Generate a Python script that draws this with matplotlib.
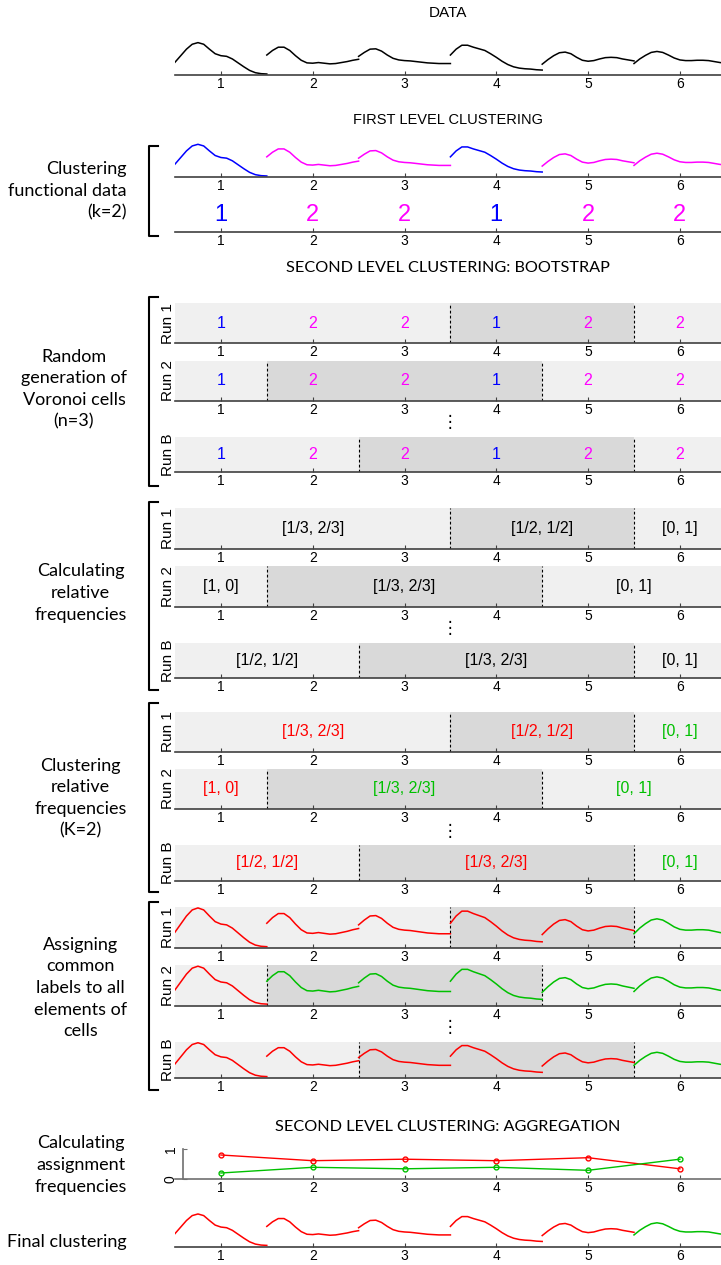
import numpy as np
import matplotlib.pyplot as plt
from matplotlib.lines import Line2D

# ---- data ----
positions = [1, 2, 3, 4, 5, 6]
tick_labels = ['1', '2', '3', '4', '5', '6']

# sample grid inside each curve's slot (0 = left edge, 1 = right edge)
curve_t = np.linspace(0, 1, 17)
curve1 = [0.40, 0.60, 0.80, 0.95, 1.00, 0.95, 0.80, 0.66, 0.60, 0.58, 0.50, 0.38, 0.26, 0.15, 0.08, 0.05, 0.04]
curve2 = [0.62, 0.76, 0.86, 0.86, 0.76, 0.60, 0.46, 0.38, 0.37, 0.39, 0.37, 0.35, 0.36, 0.39, 0.42, 0.46, 0.49]
curve3 = [0.58, 0.70, 0.80, 0.81, 0.74, 0.62, 0.52, 0.47, 0.45, 0.44, 0.42, 0.40, 0.38, 0.37, 0.36, 0.36, 0.36]
curve4 = [0.62, 0.80, 0.92, 0.92, 0.86, 0.81, 0.76, 0.66, 0.55, 0.43, 0.33, 0.26, 0.22, 0.20, 0.19, 0.17, 0.16]
curve5 = [0.34, 0.48, 0.60, 0.69, 0.71, 0.66, 0.55, 0.46, 0.43, 0.45, 0.50, 0.54, 0.55, 0.54, 0.50, 0.47, 0.44]
curve6 = [0.36, 0.50, 0.61, 0.70, 0.73, 0.70, 0.62, 0.53, 0.47, 0.45, 0.45, 0.46, 0.46, 0.45, 0.42, 0.39, 0.37]
curves = [curve1, curve2, curve3, curve4, curve5, curve6]

first_labels = [1, 2, 2, 1, 2, 2]
run_names = ['Run 1', 'Run 2', 'Run B']
run_cuts = [[3.5, 5.5], [1.5, 4.5], [2.5, 5.5]]
run_freqs = [['[1/3, 2/3]', '[1/2, 1/2]', '[0, 1]'],
             ['[1, 0]', '[1/3, 2/3]', '[0, 1]'],
             ['[1/2, 1/2]', '[1/3, 2/3]', '[0, 1]']]
run_groups = [['A', 'A', 'B'], ['A', 'B', 'B'], ['A', 'A', 'B']]
freq_red = [0.80, 0.61, 0.66, 0.61, 0.71, 0.34]
freq_green = [0.20, 0.39, 0.34, 0.39, 0.29, 0.66]
final_groups = ['A', 'A', 'A', 'A', 'A', 'B']

first_colors = {1: '#0000ff', 2: '#ff00ff'}
second_colors = {'A': '#ff0000', 'B': '#00c000'}
LIGHT, DARK = '#f0f0f0', '#d9d9d9'
AXC = '#404040'
TICKFONT = 'Liberation Sans'
SIDEFONT = 'Lato'

W, H = 721, 1265
X0, X1 = 175, 721
XLIM = (0.5, 0.5 + (X1 - X0) / 91.8)

fig = plt.figure(figsize=(W / 100, H / 100), dpi=100)
fig.patch.set_facecolor('white')


def px_axes(top, bottom, left=X0, right=X1):
    return fig.add_axes([left / W, 1 - bottom / H, (right - left) / W, (bottom - top) / H])


def base_style(ax, ymax=1.0):
    ax.set_xlim(XLIM)
    ax.set_ylim(0, ymax)
    for s in ('top', 'right', 'left'):
        ax.spines[s].set_visible(False)
    ax.spines['bottom'].set_color(AXC)
    ax.spines['bottom'].set_linewidth(1.2)
    ax.set_xticks(positions)
    ax.set_xticklabels(tick_labels, fontfamily=TICKFONT, fontsize=10)
    ax.set_yticks([])
    ax.tick_params(axis='x', direction='in', length=3, width=0.8, pad=1.5, color=AXC)
    ax.patch.set_visible(False)


def draw_curves(ax, colors):
    for p, c, col in zip(positions, curves, colors):
        ax.plot(p - 0.5 + curve_t, c, color=col, lw=1.1)


def fy(y):
    return 1 - y / H


def title(y, s, family=TICKFONT, size=11):
    fig.text(448 / W, fy(y), s, ha='center', va='center', fontsize=size, family=family)


def side(y, s, align='center'):
    fig.text(127 / W, fy(y), s, ha='right', va='center', fontsize=13, family=SIDEFONT,
             linespacing=1.43, multialignment=align)


def bracket(top, bottom):
    xs = [158 / W, 149 / W, 149 / W, 158 / W]
    ys = [fy(top), fy(top), fy(bottom), fy(bottom)]
    fig.add_artist(Line2D(xs, ys, color='black', lw=1.5, transform=fig.transFigure))


def vdots(y):
    fig.text(450 / W, fy(y), '\u22ee', ha='center', va='center', fontsize=12, family='DejaVu Sans')


def run_panel(top, bottom, cuts, name, ymax=1.0):
    ax = px_axes(top, bottom)
    base_style(ax, ymax)
    edges = [0.5] + cuts + [6.5]
    shades = [LIGHT, DARK, LIGHT]
    for k in range(3):
        ax.axvspan(edges[k], edges[k + 1], color=shades[k], lw=0, zorder=0)
    for c in cuts:
        ax.axvline(c, color='black', ls=(0, (2.5, 2)), lw=0.8, zorder=1)
    fig.text(168 / W, fy((top + bottom) / 2), name, rotation=90, ha='center', va='center',
             fontsize=11, family=TICKFONT)
    return ax, edges


# ---- DATA ----
title(13, 'DATA')
ax = px_axes(40, 75.3)
base_style(ax, 1.08)
draw_curves(ax, ['black'] * 6)

# ---- FIRST LEVEL ----
title(120, 'FIRST LEVEL CLUSTERING', size=10.5)
ax = px_axes(141, 177.3)
base_style(ax, 1.1)
draw_curves(ax, [first_colors[l] for l in first_labels])

ax = px_axes(198, 231.7)
base_style(ax)
for p, l in zip(positions, first_labels):
    ax.text(p, 0.5, str(l), color=first_colors[l], ha='center', va='center',
            fontsize=17, family=TICKFONT)
side(191, 'Clustering\nfunctional data\n(k=2)', align='right')
bracket(145.7, 236)

# ---- BOOTSTRAP ----
title(268, 'SECOND LEVEL CLUSTERING: BOOTSTRAP', family=SIDEFONT, size=11.7)

vor_boxes = [(303.3, 343.3), (361, 401), (437.3, 472.3)]
for (top, bot), cuts, name in zip(vor_boxes, run_cuts, run_names):
    ax, edges = run_panel(top, bot, cuts, name)
    for p, l in zip(positions, first_labels):
        ax.text(p, 0.5, str(l), color=first_colors[l], ha='center', va='center',
                fontsize=11.5, family=TICKFONT)
vdots(422)
side(389, 'Random\ngeneration of\nVoronoi cells\n(n=3)')
bracket(297.3, 486)

freq_boxes = [(507.7, 549), (566, 606.7), (643, 678)]
for (top, bot), cuts, name, fr in zip(freq_boxes, run_cuts, run_names, run_freqs):
    ax, edges = run_panel(top, bot, cuts, name)
    for k in range(3):
        ax.text((edges[k] + edges[k + 1]) / 2, 0.5, fr[k], ha='center', va='center',
                fontsize=11.5, family=TICKFONT)
vdots(628)
side(593, 'Calculating\nrelative\nfrequencies')
bracket(501.7, 690)

cf_boxes = [(711.7, 751.7), (769, 809), (845, 881)]
for (top, bot), cuts, name, fr, gr in zip(cf_boxes, run_cuts, run_names, run_freqs, run_groups):
    ax, edges = run_panel(top, bot, cuts, name)
    for k in range(3):
        ax.text((edges[k] + edges[k + 1]) / 2, 0.5, fr[k], color=second_colors[gr[k]],
                ha='center', va='center', fontsize=11.5, family=TICKFONT)
vdots(831)
side(798, 'Clustering\nrelative\nfrequencies\n(K=2)')
bracket(703, 891.7)

as_boxes = [(906.7, 948.3), (965, 1005.7), (1041.7, 1078)]
for (top, bot), cuts, name, gr in zip(as_boxes, run_cuts, run_names, run_groups):
    ax, edges = run_panel(top, bot, cuts, name, ymax=1.03)
    cols = []
    for p in positions:
        k = int(np.searchsorted(edges, p)) - 1
        cols.append(second_colors[gr[k]])
    draw_curves(ax, cols)
vdots(1027)
side(988, 'Assigning\ncommon\nlabels to all\nelements of\ncells')
bracket(901.7, 1090)

# ---- AGGREGATION ----
title(1127, 'SECOND LEVEL CLUSTERING: AGGREGATION', family=SIDEFONT, size=11.7)
ax = px_axes(1140, 1179)
base_style(ax, 39 / 30)
ax.spines['bottom'].set_color('#707070')
ax.spines['left'].set_visible(True)
ax.spines['left'].set_color('#707070')
ax.spines['left'].set_linewidth(1.2)
ax.spines['left'].set_position(('data', 0.59))
ax.spines['left'].set_bounds(0, 1)
ax.set_yticks([0, 1])
ax.set_yticklabels(['0', '1'], rotation=90, va='center', fontsize=10, family=TICKFONT)
ax.tick_params(axis='y', direction='in', length=3, width=0.8, pad=4, color='#707070')
ax.plot(positions, freq_red, color=second_colors['A'], lw=1, marker='o', ms=3.5, mfc='none', mew=1)
ax.plot(positions, freq_green, color=second_colors['B'], lw=1, marker='o', ms=3.5, mfc='none', mew=1)
side(1165, 'Calculating\nassignment\nfrequencies')

# ---- FINAL ----
ax = px_axes(1212, 1246.7)
base_style(ax, 1.06)
draw_curves(ax, [second_colors[g] for g in final_groups])
side(1242, 'Final clustering')

fig.savefig('out.png', dpi=100)
